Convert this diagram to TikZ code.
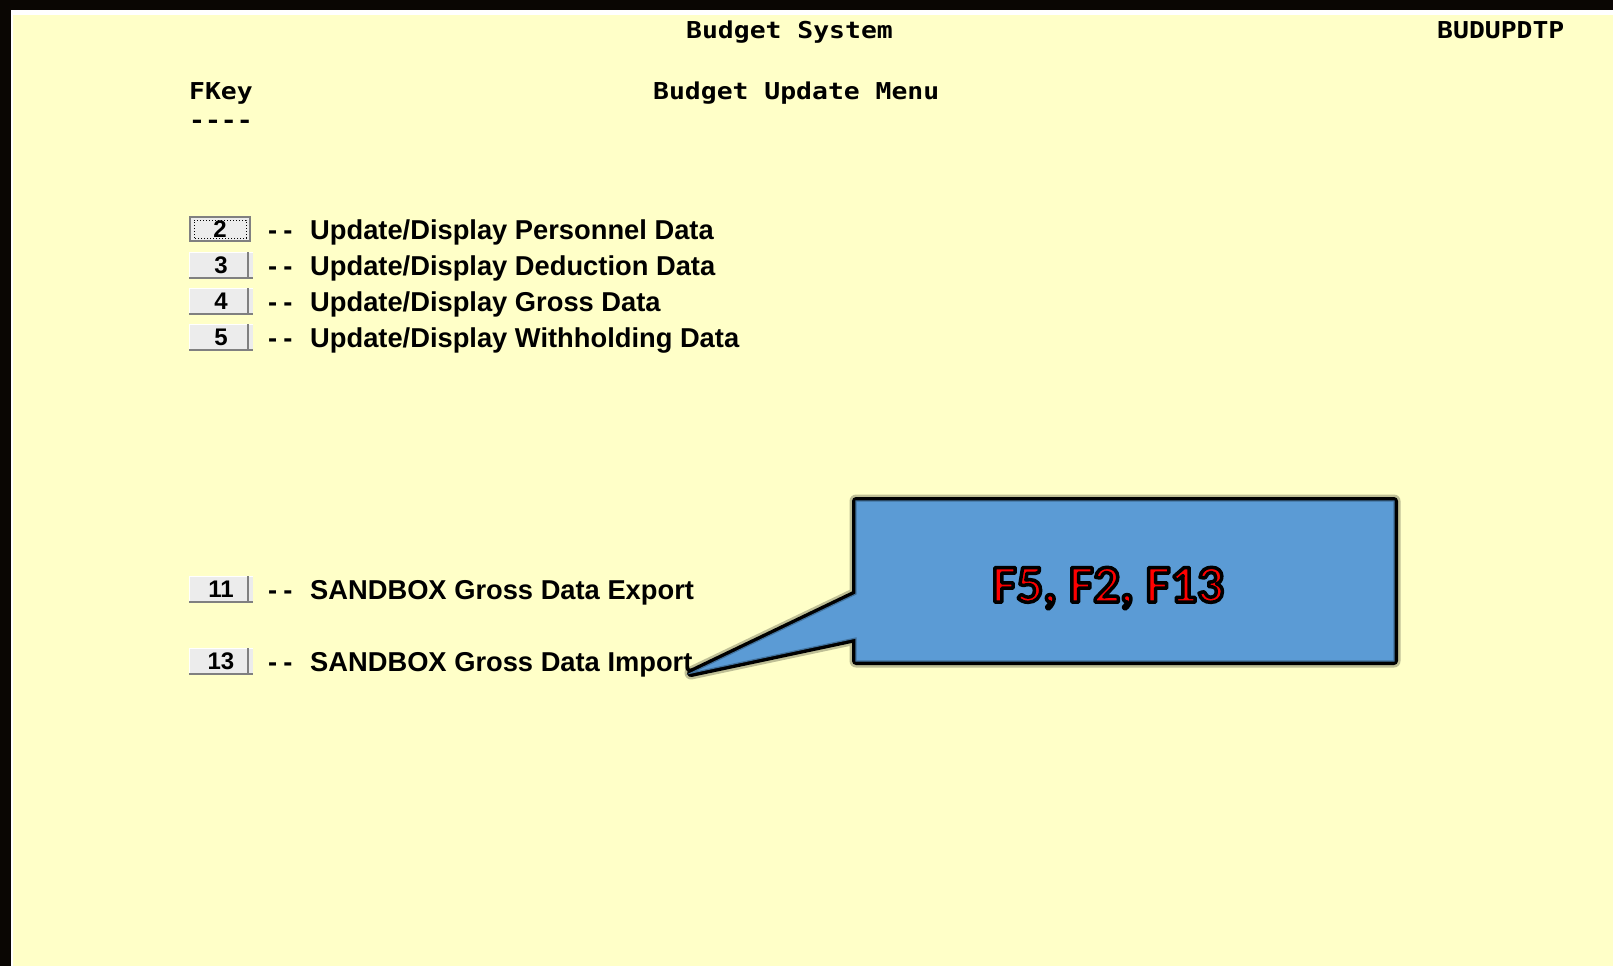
\documentclass[tikz,border=0pt]{standalone}
\usepackage{fontspec}
\usepackage{graphicx}
\setmainfont{Liberation Sans}
\newfontfamily\monofont{DejaVu Sans Mono}
\newfontfamily\calfont{Carlito}
\definecolor{screen}{HTML}{FFFFC8}
\definecolor{btngray}{HTML}{ECECEC}
\definecolor{btndark}{HTML}{808080}
\definecolor{callblue}{HTML}{5B9BD5}
\definecolor{calledge}{HTML}{41719C}
\definecolor{calltext}{HTML}{FF0000}
\tikzset{
  hdr/.style={font=\monofont\bfseries\fontsize{26.4}{30}\selectfont, anchor=base west, inner sep=0pt},
  menutext/.style={font=\bfseries\fontsize{27.3}{32}\selectfont, anchor=base west, inner sep=0pt},
  btnbox/.style={rectangle, fill=btngray, minimum width=63pt, minimum height=25pt, inner sep=0pt, font=\bfseries\fontsize{24}{28}\selectfont},
  btnhi/.style={draw=white, line width=1.5pt},
  btnlo/.style={draw=btndark, line width=2pt},
  calltxt/.style={font=\calfont\bfseries\fontsize{53}{60}\selectfont, inner sep=0pt, anchor=base},
}
\newcommand{\hdrtext}[1]{\scalebox{1}[0.88]{#1}}
\newcommand{\dashes}{-{\kern6pt}-}
\newcommand{\mkbtn}[4]{%
  \node[btnbox] (#1) at (221,#2) {#3};
  \draw[btnhi] (#1.south west) -- (#1.north west) -- (#1.north east);
  \draw[btnlo] (#1.south west) -- (#1.south east);
  \draw[btnlo] ([xshift=-5pt]#1.north east) -- ([xshift=-5pt]#1.south east);
  \node[menutext] (d#1) at (268,#4) {\dashes};
}
\begin{document}
\begin{tikzpicture}[x=1pt,y=-1pt]
\useasboundingbox (0,0) rectangle (1613,966);
% screen frame
\fill[black!95!brown] (0,0) rectangle (1613,966);
\fill[white] (11,10) rectangle (1613,966);
\fill[screen] (13,15) rectangle (1613,966);

% headers
\node[hdr] (title) at (686,39) {\hdrtext{Budget System}};
\node[hdr] (prog) at (1437,39) {\hdrtext{BUDUPDTP}};
\node[hdr] (fkey) at (189,99) {\hdrtext{FKey}};
\node[hdr] (rule) at (189,128) {\hdrtext{----}};
\node[hdr] (menu) at (653,99) {\hdrtext{Budget Update Menu}};

% button 2 (focused)
\node[btnbox, draw=btndark, line width=2pt, minimum width=60pt, minimum height=24pt] (b2) at (220,229) {};
\draw[dotted, line width=1pt] ([shift={(5pt,4pt)}]b2.south west) rectangle ([shift={(-5pt,-4pt)}]b2.north east);
\node[font=\bfseries\fontsize{24}{28}\selectfont, inner sep=0pt] (b2t) at (b2.center) {2};
\node[menutext] (db2) at (268,239) {\dashes};

\mkbtn{b3}{265}{3}{275}
\mkbtn{b4}{301}{4}{311}
\mkbtn{b5}{337}{5}{347}
\mkbtn{b11}{589}{11}{599}
\mkbtn{b13}{661}{13}{671}

\node[menutext] (t2) at (310,239) {Update/Display Personnel Data};
\node[menutext] (t3) at (310,275) {Update/Display Deduction Data};
\node[menutext] (t4) at (310,311) {Update/Display Gross Data};
\node[menutext] (t5) at (310,347) {Update/Display Withholding Data};
\node[menutext] (t11) at (310,599) {SANDBOX Gross Data Export};
\node[menutext] (t13) at (310,671) {SANDBOX Gross Data Import};

% callout
\coordinate (tip) at (691,673);
\def\callpath{(856,501) -- (1394,501) -- (1394,661) -- (856,661) -- (856,638) -- (tip) -- (856,594) -- cycle}
\draw[black, opacity=0.25, line width=13pt, line join=round] \callpath;
\draw[black, line width=8pt, line join=round] \callpath;
\fill[callblue] \callpath;
\draw[calledge, line width=1.2pt] \callpath;

\node[calltxt, text=calltext] (keys) at (1108,602) {\special{pdf:literal direct 2 Tr 3.5 w 1 j 0 0 0 RG}F5, F2, F13\special{pdf:literal direct 0 Tr}};
\end{tikzpicture}
\end{document}
